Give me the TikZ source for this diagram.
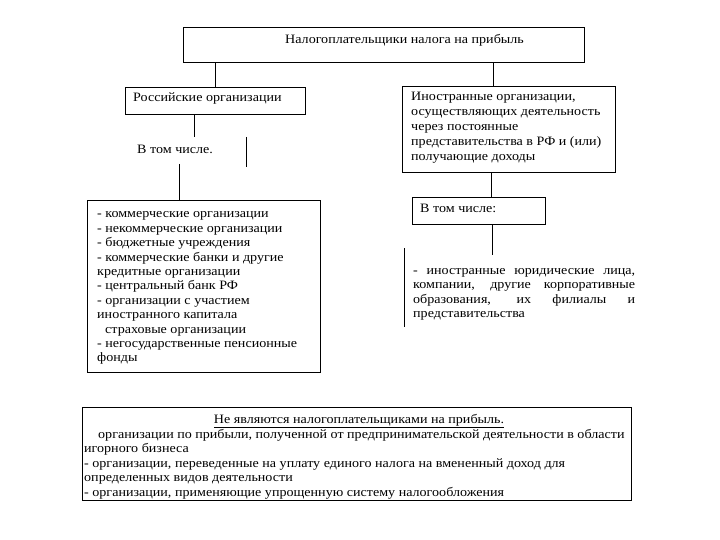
\documentclass[tikz,border=0pt]{standalone}
\usepackage{fontspec}
\setmainfont[FakeStretch=1.1]{Liberation Serif}
\begin{document}
\begin{tikzpicture}[x=1pt,y=-1pt,
  box/.style={draw, line width=0.9pt, inner sep=0pt, anchor=north west},
  txt/.style={inner sep=0pt, anchor=base west, font=\fontsize{12.8}{14.5}\selectfont},
  link/.style={line width=0.9pt}]
\useasboundingbox (0,0) rectangle (720,540);
% boxes
\node[box, minimum width=401pt, minimum height=35pt] (top) at (183,27) {};
\node[box, minimum width=180pt, minimum height=27pt] (rus) at (125,87) {};
\node[box, minimum width=213pt, minimum height=86pt] (for) at (402,86) {};
\node[box, minimum width=233pt, minimum height=172pt] (list) at (87,200) {};
\node[box, minimum width=133pt, minimum height=27pt] (vtc) at (412,197) {};
\node[box, minimum width=549pt, minimum height=93pt] (bot) at (82,407) {};
% texts
\node[txt] (toptext) at (285,44) {Налогоплательщики налога на прибыль};
\node[txt] (rustext) at (133,102) {Российские организации};
\node[txt] (vtcone) at (137,154) {В том числе.};
\node[txt, font=\fontsize{12.8}{15}\selectfont] (fortext) at (411,101) {\vtop{%
  \hbox{Иностранные организации,}
  \hbox{осуществляющих деятельность}
  \hbox{через постоянные}
  \hbox{представительства в РФ и (или)}
  \hbox{получающие доходы}}};
\node[txt] (vtctwo) at (420,212) {В том числе:};
\node[txt, font=\fontsize{12.8}{14.4}\selectfont] (listtext) at (97,218) {\vtop{%
  \hbox{- коммерческие организации}
  \hbox{- некоммерческие организации}
  \hbox{- бюджетные учреждения}
  \hbox{- коммерческие банки и другие}
  \hbox{кредитные организации}
  \hbox{- центральный банк РФ}
  \hbox{- организации с участием}
  \hbox{иностранного капитала}
  \hbox{\hspace*{8pt}страховые организации}
  \hbox{- негосударственные пенсионные}
  \hbox{фонды}}};
\node[txt] (righttext) at (413,274) {\vtop{%
  \hbox to 222pt{- иностранные юридические лица,}
  \hbox to 222pt{компании, другие корпоративные}
  \hbox to 222pt{образования, их филиалы и}
  \hbox{представительства}}};
\node[txt, anchor=base] (bothead) at (359,423) {\underline{Не являются налогоплательщиками на прибыль.}};
\node[txt] (bottext) at (84,438) {\vtop{%
  \hbox{\hspace*{14pt}организации по прибыли, полученной от предпринимательской деятельности в области}
  \hbox{игорного бизнеса}
  \hbox{- организации, переведенные на уплату единого налога на вмененный доход для}
  \hbox{определенных видов деятельности}
  \hbox{- организации, применяющие упрощенную систему налогообложения}}};
% connectors
\coordinate (c1) at (493,0);
\draw[link] (top.south -| c1) -- (for.north -| c1);
\draw[link] (top.south -| rus.north) -- (rus.north);
\coordinate (e1) at (194,137);
\draw[link] (rus.south -| e1) -- (e1);
\coordinate (s1) at (246,137);
\coordinate (s2) at (246,167);
\draw[link] (s1) -- (s2);
\coordinate (e2) at (179,164);
\draw[link] (e2) -- (list.north -| e2);
\coordinate (c2) at (491,0);
\draw[link] (for.south -| c2) -- (vtc.north -| c2);
\coordinate (e3) at (492,255);
\draw[link] (vtc.south -| e3) -- (e3);
\coordinate (v1) at (404,248);
\coordinate (v2) at (404,327);
\draw[link] (v1) -- (v2);
\end{tikzpicture}
\end{document}
